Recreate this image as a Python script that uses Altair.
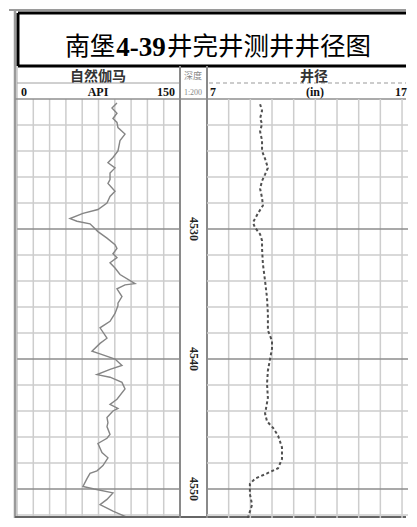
import altair as alt
import pandas as pd

# ---------------- data ----------------
gr_depth = [4520.3, 4520.7, 4521.1, 4521.5, 4521.8, 4522.2, 4522.7, 4523.2, 4524.0, 4524.5,
            4524.9, 4525.3, 4525.7, 4526.2, 4526.5, 4527.1, 4527.5, 4528.0, 4528.5, 4528.8,
            4529.2, 4529.4, 4529.6, 4530.2, 4530.7, 4531.2, 4531.5, 4531.9, 4532.2, 4532.6,
            4533.0, 4533.5, 4534.2, 4534.3, 4534.6, 4535.2, 4535.7, 4535.9, 4536.5, 4537.1,
            4537.6, 4538.4, 4538.8, 4539.4, 4539.6, 4540.0, 4540.5, 4540.8, 4541.2, 4541.4,
            4541.8, 4542.3, 4543.1, 4543.5, 4543.8, 4544.0, 4544.5, 4544.9, 4545.2, 4545.8,
            4546.1, 4546.5, 4547.2, 4547.6, 4548.2, 4548.6, 4548.8, 4549.2, 4549.8, 4550.0,
            4550.3, 4550.8, 4551.2, 4551.7, 4552.1, 4552.6, 4552.8]
gr_api = [92.0, 87.4, 92.0, 88.3, 92.0, 92.9, 99.4, 94.8, 92.9, 88.3,
          83.7, 90.2, 85.6, 85.6, 83.7, 90.2, 85.6, 82.8, 74.5, 60.7,
          48.8, 55.2, 67.2, 74.5, 82.8, 90.2, 92.0, 88.3, 92.0, 85.6,
          90.2, 94.8, 108.6, 99.4, 92.0, 96.6, 92.9, 92.9, 90.2, 85.6,
          76.4, 82.8, 76.4, 69.0, 76.4, 90.2, 96.6, 85.6, 73.6, 85.6,
          96.6, 99.4, 92.0, 85.6, 92.9, 88.3, 82.8, 83.7, 82.8, 85.6,
          82.8, 74.5, 78.2, 83.7, 79.1, 73.6, 67.2, 64.4, 60.7, 71.0,
          88.3, 82.8, 76.4, 88.3, 99.4, 90.2, 76.4]

cal_depth = [4520.4, 4520.9, 4521.5, 4521.9, 4522.5, 4523.2, 4524.0, 4524.6, 4525.3, 4525.8,
             4526.3, 4526.9, 4527.6, 4528.2, 4528.8, 4529.5, 4529.9, 4530.4, 4530.9, 4531.5,
             4532.7, 4534.0, 4535.3, 4536.5, 4537.8, 4538.6, 4539.2, 4540.0, 4540.9, 4541.9,
             4543.0, 4544.2, 4544.8, 4545.3, 4545.9, 4546.8, 4547.7, 4548.4, 4548.8, 4549.2,
             4549.6, 4550.4, 4551.2, 4552.2, 4552.8]
cal_in = [9.45, 9.54, 9.45, 9.54, 9.45, 9.54, 9.54, 9.68, 9.81, 9.68,
          9.54, 9.45, 9.54, 9.58, 9.35, 9.12, 9.22, 9.45, 9.54, 9.54,
          9.58, 9.68, 9.77, 9.81, 9.81, 10.00, 10.00, 9.91, 9.81, 9.77,
          9.81, 9.68, 9.77, 10.05, 10.28, 10.46, 10.46, 10.28, 9.77, 9.22,
          8.98, 8.98, 9.08, 8.89, 8.85]

gr_grid = [15, 30, 45, 60, 75, 90, 105, 120, 135]
cal_grid = [8, 9, 10, 11, 12, 13, 14, 15, 16]
depth_minor = [4522, 4524, 4526, 4528, 4532, 4534, 4536, 4538,
               4542, 4544, 4546, 4548, 4552]
depth_major = [4530, 4540, 4550]
depth_labels = ["4530", "4540", "4550"]

title_parts = ["南堡", "4-39", "井完井测井井径图"]

# ---------------- layout ----------------
PX_PER_M = 13.0
H = 419
W_GR, W_D, W_C = 163, 27, 201
CAL_STEP = 21.67
yscale = alt.Scale(domain=[4520, 4520 + H / PX_PER_M], reverse=True, nice=False, zero=False)
grx = alt.Scale(domain=[0, 150], nice=False, zero=False)
calx = alt.Scale(domain=[7, 7 + W_C / CAL_STEP], nice=False, zero=False)

one = pd.DataFrame({"k": [0]})
gr_df = pd.DataFrame({"d": gr_depth, "v": gr_api})
cal_df = pd.DataFrame({"d": cal_depth, "v": cal_in})
minor_df = pd.DataFrame({"d": depth_minor})
major_df = pd.DataFrame({"d": depth_major})
lab_df = pd.DataFrame({"d": depth_major, "t": depth_labels})
grg_df = pd.DataFrame({"v": gr_grid})
calg_df = pd.DataFrame({"v": cal_grid})

GRID = "#cdcdcd"
MAJOR = "#8c8c8c"
BORDER = "#8a8a8a"


def hrule(x1, x2, y, color, sw, dash=None):
    kw = {"color": color, "strokeWidth": sw}
    if dash:
        kw["strokeDash"] = dash
    return alt.Chart(one).mark_rule(**kw).encode(
        x=alt.value(x1), x2=alt.value(x2), y=alt.value(y))


def vrule(x, y1, y2, color, sw):
    return alt.Chart(one).mark_rule(color=color, strokeWidth=sw).encode(
        x=alt.value(x), y=alt.value(y1), y2=alt.value(y2))


def label(text, x, y, size, font="Liberation Serif", weight="bold",
          color="#111", align="center"):
    return alt.Chart(one).mark_text(
        text=text, font=font, fontSize=size, fontWeight=weight, color=color,
        align=align, baseline="middle").encode(x=alt.value(x), y=alt.value(y))


def hgrid(df, color):
    return alt.Chart(df).mark_rule(color=color, strokeWidth=1.5, clip=True).encode(
        y=alt.Y("d:Q", scale=yscale, axis=None))


def vgrid(df, scale):
    return alt.Chart(df).mark_rule(color=GRID, strokeWidth=1.5).encode(
        x=alt.X("v:Q", scale=scale, axis=None))


# ---- GR track (with frame, title) ----
gr_curve = alt.Chart(gr_df).mark_line(color="#858585", strokeWidth=1.4, clip=True).encode(
    x=alt.X("v:Q", scale=grx, axis=None),
    y=alt.Y("d:Q", scale=yscale, axis=None),
    order=alt.Order("d:Q"))

RIGHT = W_GR + W_D + W_C - 2
gr_panel = alt.layer(
    hgrid(minor_df, GRID),
    vgrid(grg_df, grx),
    hgrid(major_df, MAJOR),
    gr_curve,
    # outer frame
    hrule(-8, RIGHT, -89, "#9a9a9a", 2),
    vrule(-2, -89, H, "#9a9a9a", 2.5),
    vrule(0, -33, H, "#aaaaaa", 1),
    hrule(-2, RIGHT, 0, "#8f8f8f", 1.5),
    hrule(-2, RIGHT, H - 1, "#666666", 2),
    # title box
    hrule(1, RIGHT, -86, "#000000", 3),
    hrule(1, RIGHT, -33, "#000000", 3),
    vrule(1, -86, -33, "#000000", 3),
    label(title_parts[0], 98, -52, 25, font="Noto Sans CJK SC", weight="normal",
          color="#000", align="right"),
    label(title_parts[1], 124, -51, 27, font="Liberation Serif", weight="bold",
          color="#000"),
    label(title_parts[2], 150, -52, 25.5, font="Noto Sans CJK SC", weight="normal",
          color="#000", align="left"),
    # header
    label("自然伽马", 81, -22, 14, font="Noto Sans CJK SC", weight="bold", color="#333"),
    hrule(0, W_GR, -16, "#a0a0a0", 1),
    label("0", 4, -7, 12, align="left"),
    label("API", 81, -7, 12),
    label("150", 158, -7, 12, align="right"),
).properties(width=W_GR, height=H)

# ---- depth track ----
depth_panel = alt.layer(
    vrule(0, -33, H, BORDER, 2),
    vrule(W_D, -33, H, BORDER, 2),
    alt.Chart(lab_df).mark_text(angle=90, font="Liberation Serif", fontWeight="bold",
                                fontSize=12, color="#222", baseline="middle").encode(
        y=alt.Y("d:Q", scale=yscale, axis=None),
        x=alt.value(W_D / 2),
        text="t:N"),
    label("深度", 13, -23, 9, font="Noto Sans CJK SC", weight="normal", color="#888"),
    label("1:200", 13, -6, 8, weight="normal", color="#888"),
).properties(width=W_D, height=H)

# ---- caliper track ----
cal_curve = alt.Chart(cal_df).mark_line(color="#505050", strokeWidth=2,
                                        strokeDash=[3, 2.5], clip=True).encode(
    x=alt.X("v:Q", scale=calx, axis=None),
    y=alt.Y("d:Q", scale=yscale, axis=None),
    order=alt.Order("d:Q"))

cal_panel = alt.layer(
    hgrid(minor_df, GRID),
    vgrid(calg_df, calx),
    hgrid(major_df, MAJOR),
    cal_curve,
    hrule(2, W_C - 2, -16, "#999999", 1.2, dash=[4, 3]),
    label("井径", 107, -22, 14, font="Noto Sans CJK SC", weight="bold", color="#333"),
    label("7", 3, -7, 12, align="left"),
    label("(in)", 108, -7, 12),
    label("17", W_C - 1, -7, 12, align="right"),
).properties(width=W_C, height=H)

chart = alt.hconcat(gr_panel, depth_panel, cal_panel, spacing=0, bounds="flush").properties(
    padding=0
).configure_view(strokeWidth=0)

chart.save("out.html", embed_options={"renderer": "svg", "actions": False})
